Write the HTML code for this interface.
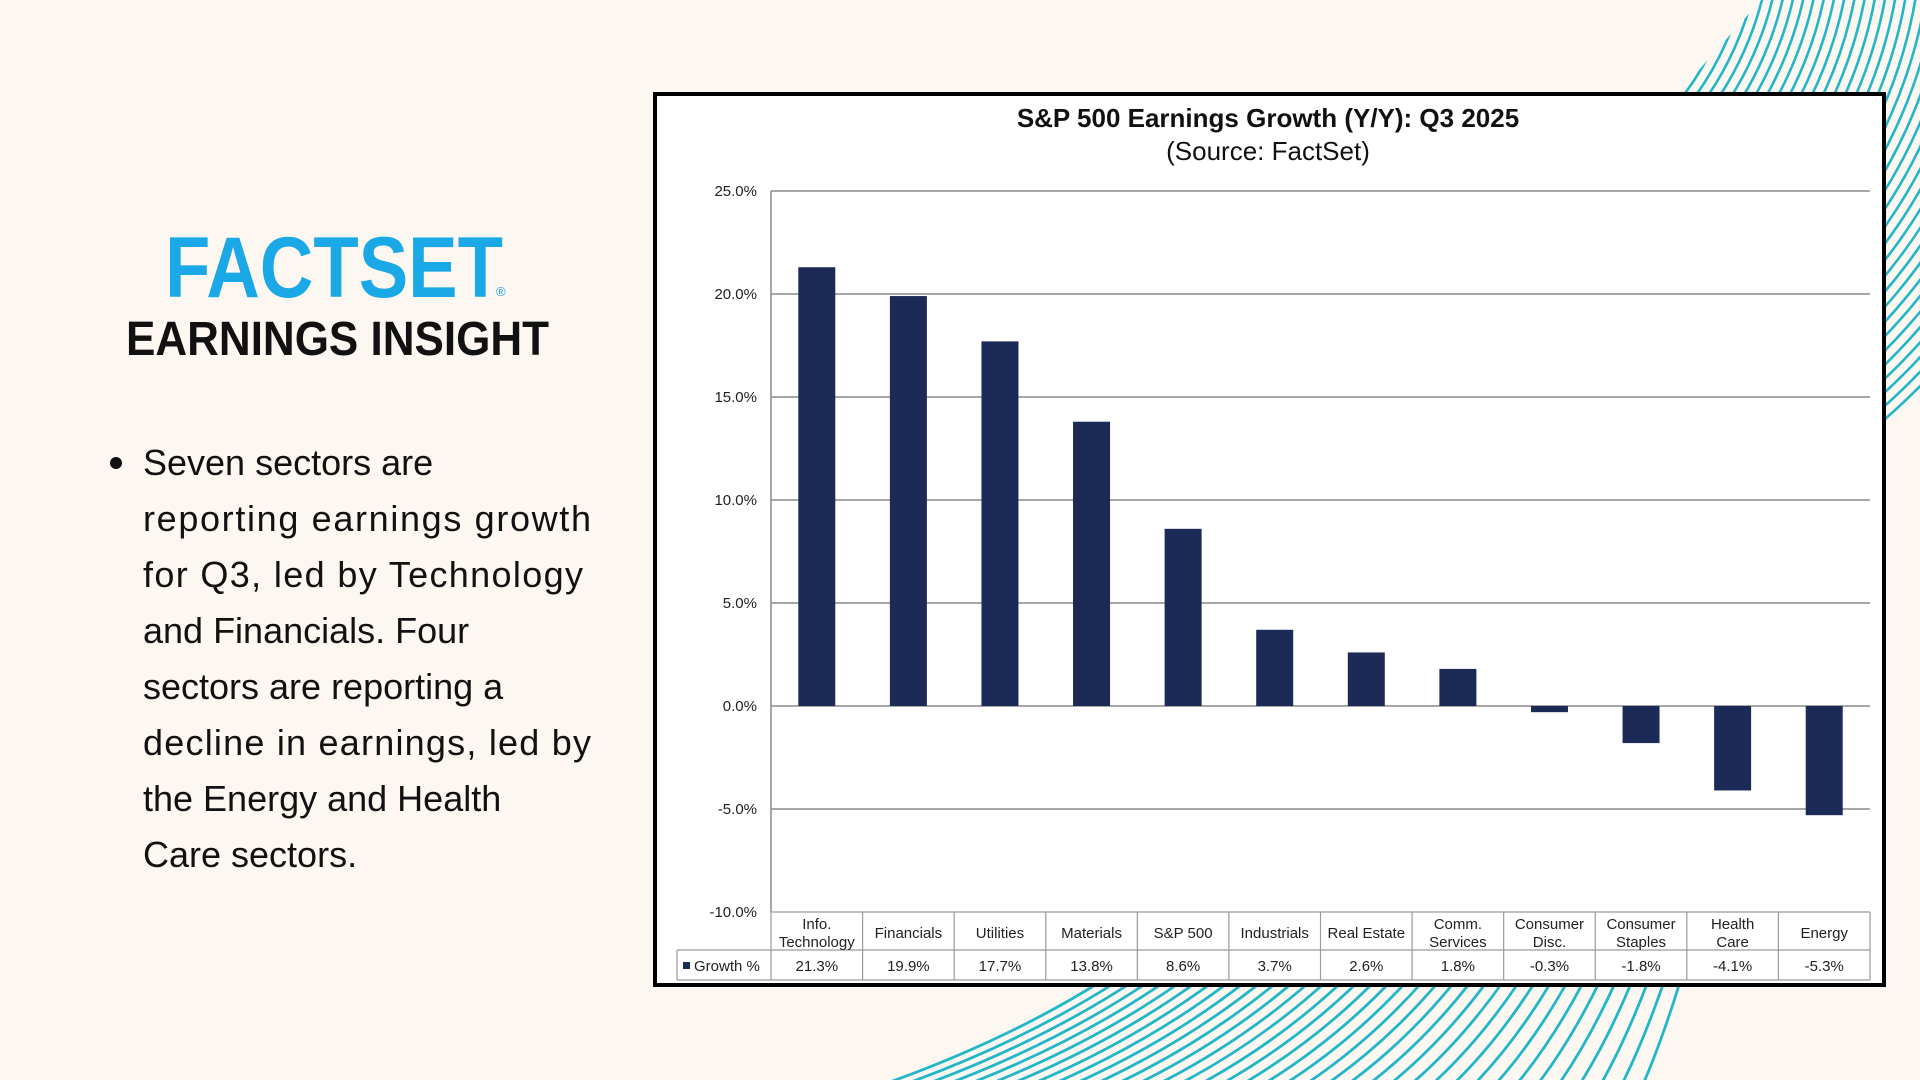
<!DOCTYPE html>
<html><head><meta charset="utf-8"><style>
html,body{margin:0;padding:0;width:1920px;height:1080px;overflow:hidden;background:#fdf7f2}
svg{display:block}
</style></head><body>
<svg id="page" width="1920" height="1080" viewBox="0 0 1920 1080" xmlns="http://www.w3.org/2000/svg" font-family="Liberation Sans, sans-serif">
<defs><clipPath id="trclip"><polygon points="1650,125 1770,-10 1930,-10 1930,600 1650,600"/></clipPath></defs>
<rect x="0" y="0" width="1920" height="1080" fill="#fdf7f2"/>
<g id="stripes-tr" clip-path="url(#trclip)" stroke="#22b6c8" stroke-width="2.6" fill="none"></g>
<g id="stripes-b" stroke="#22b6c8" stroke-width="2.8" fill="none"></g>

<text x="165" y="297" font-size="86" font-weight="bold" fill="#1aa8e6" textLength="338" lengthAdjust="spacingAndGlyphs">FACTSET</text>
<text x="496" y="296" font-size="13" fill="#1aa8e6">®</text>
<text x="126" y="355" font-size="48" font-weight="bold" fill="#111" textLength="423" lengthAdjust="spacingAndGlyphs">EARNINGS INSIGHT</text>

<g font-size="36" fill="#111">
<circle cx="116" cy="463" r="6" fill="#111"/>
<text x="143" y="475">Seven sectors are</text>
<text x="143" y="531" textLength="448" lengthAdjust="spacing">reporting earnings growth</text>
<text x="143" y="587" textLength="440" lengthAdjust="spacing">for Q3, led by Technology</text>
<text x="143" y="643">and Financials.  Four</text>
<text x="143" y="699">sectors are reporting a</text>
<text x="143" y="755" textLength="448" lengthAdjust="spacing">decline in earnings, led by</text>
<text x="143" y="811">the Energy and Health</text>
<text x="143" y="867">Care sectors.</text>
</g>

<rect x="655" y="94" width="1229" height="891" fill="#fff" stroke="#000" stroke-width="4"/>
<text x="1268" y="127" font-size="26" font-weight="bold" text-anchor="middle" fill="#111">S&amp;P 500 Earnings Growth (Y/Y): Q3 2025</text>
<text x="1268" y="160" font-size="26" text-anchor="middle" fill="#111">(Source: FactSet)</text>
<g id="chart"></g>
</svg>
<script>
const categories = [["Info.","Technology"],["Financials"],["Utilities"],["Materials"],["S&P 500"],["Industrials"],["Real Estate"],["Comm.","Services"],["Consumer","Disc."],["Consumer","Staples"],["Health","Care"],["Energy"]];
const growthValues = [21.3, 19.9, 17.7, 13.8, 8.6, 3.7, 2.6, 1.8, -0.3, -1.8, -4.1, -5.3];
const growthLabels = ["21.3%","19.9%","17.7%","13.8%","8.6%","3.7%","2.6%","1.8%","-0.3%","-1.8%","-4.1%","-5.3%"];
const yTicks = [25, 20, 15, 10, 5, 0, -5, -10];
const yTickLabels = ["25.0%","20.0%","15.0%","10.0%","5.0%","0.0%","-5.0%","-10.0%"];

const NS = "http://www.w3.org/2000/svg";
const X0 = 771, X1 = 1870, YTOP = 191, YBOT = 912, VMAX = 25, VMIN = -10;
const colW = (X1 - X0) / categories.length;
function yScale(v){ return YTOP + (VMAX - v) * (YBOT - YTOP) / (VMAX - VMIN); }
function xCenter(i){ return X0 + colW * (i + 0.5); }
function mk(tag, attrs, parent){ const e = document.createElementNS(NS, tag); for (const k in attrs) e.setAttribute(k, attrs[k]); parent.appendChild(e); return e; }
const chart = document.getElementById("chart");

yTicks.forEach((t, i) => {
  const y = yScale(t);
  if (i < yTicks.length - 1) {
    const g = mk("line", {x1: X0, x2: X1, y1: y, y2: y, stroke: "#8a8a8a", "stroke-width": 1.5}, chart);
    
    
  }
  const l = mk("text", {x: 757, y: y + 5, "font-size": 15, "text-anchor": "end", fill: "#222"}, chart);
  l.textContent = yTickLabels[i];
  
  
});
const ax = mk("line", {x1: X0, x2: X0, y1: YTOP, y2: YBOT, stroke: "#8a8a8a", "stroke-width": 1.5}, chart);



const bw = 37;
growthValues.forEach((v, i) => {
  const y0 = yScale(0), y = yScale(v);
  const r = mk("rect", {x: xCenter(i) - bw / 2, y: Math.min(y, y0), width: bw, height: Math.abs(y - y0), fill: "#1b2a56"}, chart);
  
  
});

const T0 = YBOT, T1 = 950, T2 = 980, TL = 677;
const tb = mk("g", {stroke: "#9a9a9a", "stroke-width": 1.2, fill: "none"}, chart);


mk("line", {x1: X0, x2: X1, y1: T0, y2: T0}, tb);
mk("line", {x1: TL, x2: X1, y1: T1, y2: T1}, tb);
mk("line", {x1: TL, x2: X1, y1: T2, y2: T2}, tb);
mk("line", {x1: TL, x2: TL, y1: T1, y2: T2}, tb);
for (let i = 0; i <= categories.length; i++) {
  const x = X0 + colW * i;
  mk("line", {x1: x, x2: x, y1: T0, y2: T2}, tb);
}
categories.forEach((c, i) => {
  const t = mk("text", {x: xCenter(i), "font-size": 15, "text-anchor": "middle", fill: "#222"}, chart);
  
  
  if (c.length === 1) { t.setAttribute("y", 938); t.textContent = c[0]; }
  else {
    const a = mk("tspan", {x: xCenter(i), y: 929}, t); a.textContent = c[0];
    const b = mk("tspan", {x: xCenter(i), y: 947}, t); b.textContent = c[1];
  }
  const g = mk("text", {x: xCenter(i), y: 971, "font-size": 15, "text-anchor": "middle", fill: "#222"}, chart);
  g.textContent = growthLabels[i];
  
  
});
const lk = mk("rect", {x: 683, y: 962, width: 7, height: 7, fill: "#1b2a56"}, chart);


const lt = mk("text", {x: 694, y: 971, "font-size": 15, fill: "#222"}, chart);
lt.textContent = "Growth %";



// decorative stripes: concentric arcs top-right
const st = document.getElementById("stripes-tr");
const cx = 1450, cy = -80;
for (let r = 242; r <= 670; r += 10) {
  const p = mk("circle", {cx: cx, cy: cy, r: r}, st);
  
  
}
// bottom fan
const sb = document.getElementById("stripes-b");
const N = 37;
for (let i = 0; i < N; i++) {
  const f = i / (N - 1);
  const tx = 1100 + f * (1680 - 1100), bx = 890 + f * (1644 - 890);
  const p = mk("path", {d: `M ${tx} 982 Q ${(tx + bx) / 2 + 12 * (1 - f)} 1040 ${bx} 1082`}, sb);
  
  
}
</script>
</body></html>
